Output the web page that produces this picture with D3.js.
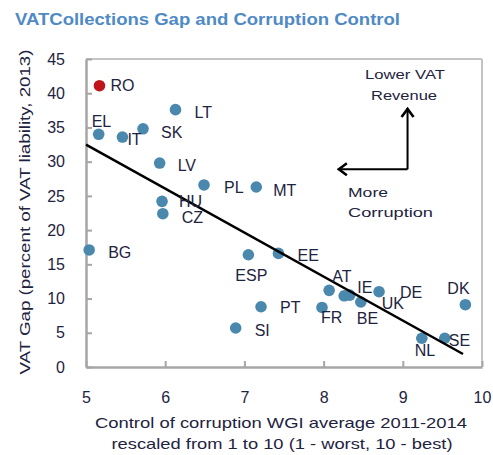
<!DOCTYPE html>
<html>
<head>
<meta charset="utf-8">
<script src="https://cdn.jsdelivr.net/npm/d3@7"></script>
<style>
  html, body { margin: 0; padding: 0; background: #fff; }
  svg { display: block; font-family: "Liberation Sans", Arial, sans-serif; }
</style>
</head>
<body>
<svg id="chart" width="493" height="455"></svg>
<script>
// ---- Data ----
const countries = ["RO","LT","EL","IT","SK","LV","PL","MT","HU","CZ","BG","ESP","PT","SI","EE","AT","FR","IE","BE","UK","DE","DK","SE","NL"];
const corruptionControl = [5.17,6.13,5.16,5.46,5.72,5.93,6.49,7.15,5.96,5.97,5.04,7.05,7.21,6.89,7.43,8.07,7.98,8.26,8.33,8.47,8.70,9.79,9.53,9.24];
const vatGap = [41.1,37.6,34.0,33.6,34.8,29.8,26.6,26.3,24.2,22.4,17.1,16.4,8.8,5.7,16.6,11.2,8.7,10.4,10.5,9.5,11.0,9.1,4.2,4.2];
const highlighted = ["RO"];
const xTicks = [5,6,7,8,9,10];
const yTicks = [0,5,10,15,20,25,30,35,40,45];
const trendX = [5.0, 9.76];
const trendY = [32.5, 1.9];
const arrowCorner = [9.06, 28.9];
const arrowUpTo = 37.85;
const arrowLeftTo = 8.18;

// ---- Layout / style (not data) ----
const labelOffsets = {
  RO:[11,5], LT:[19,8], EL:[-7,-7], IT:[5,8], SK:[18,9], LV:[18,8], PL:[20,8], MT:[17,9],
  HU:[17,6], CZ:[19,9], BG:[19,8], ESP:[-13,26], PT:[19,6], SI:[19,8], EE:[19,8],
  AT:[3,-8], FR:[-1,16], IE:[13,-3], BE:[7,29], UK:[21,7], DE:[21,6], DK:[-18,-11], SE:[4,8], NL:[-7,18]
};
const pointColor = "#4a88ad";
const redColor = "#c0141b";
const textColor = "#1e2340";
const axisColor = "#a6a6a6";

const svg = d3.select("#chart");
const x = d3.scaleLinear().domain([5, 10]).range([86, 482]);
const y = d3.scaleLinear().domain([0, 45]).range([367, 59]);

// Title
svg.append("text")
  .attr("x", 15).attr("y", 25)
  .attr("font-size", 16).attr("font-weight", "bold")
  .attr("fill", "#4f8ac5")
  .attr("textLength", 385).attr("lengthAdjust", "spacingAndGlyphs")
  .text("VATCollections Gap and Corruption Control");

// Plot frame (top & right)
svg.append("line").attr("x1", x(5)).attr("x2", x(10)).attr("y1", y(45)).attr("y2", y(45))
  .attr("stroke", "#c4c4c4").attr("stroke-width", 2);
svg.append("line").attr("x1", x(10)).attr("x2", x(10)).attr("y1", y(45)).attr("y2", y(0))
  .attr("stroke", "#c4c4c4").attr("stroke-width", 2);

// Axes
const xAxis = d3.axisBottom(x).tickValues(xTicks).tickSizeInner(-6).tickSizeOuter(0).tickPadding(25).tickFormat(d3.format("d"));
const yAxis = d3.axisLeft(y).tickValues(yTicks).tickSizeInner(-6).tickSizeOuter(0).tickPadding(21).tickFormat(d3.format("d"));

const gx = svg.append("g").attr("transform", `translate(0,${y(0)})`).call(xAxis);
const gy = svg.append("g").attr("transform", `translate(${x(5)},0)`).call(yAxis);
[gx, gy].forEach(g => {
  g.select(".domain").attr("stroke", axisColor).attr("stroke-width", 2.5);
  g.selectAll(".tick line").attr("stroke", axisColor).attr("stroke-width", 2);
  g.selectAll(".tick text").attr("fill", textColor).attr("font-size", 16)
    .attr("font-family", "'Liberation Sans', Arial, sans-serif");
});
gx.selectAll(".tick text").attr("dy", "0.71em");

// Axis titles
svg.append("text")
  .attr("x", 281).attr("y", 428).attr("text-anchor", "middle")
  .attr("font-size", 15).attr("fill", textColor)
  .attr("textLength", 372).attr("lengthAdjust", "spacingAndGlyphs")
  .text("Control of corruption WGI average 2011-2014");
svg.append("text")
  .attr("x", 282).attr("y", 449).attr("text-anchor", "middle")
  .attr("font-size", 15).attr("fill", textColor)
  .attr("textLength", 341).attr("lengthAdjust", "spacingAndGlyphs")
  .text("rescaled from 1 to 10  (1 - worst, 10 - best)");
svg.append("text")
  .attr("transform", "translate(30,212) rotate(-90)")
  .attr("text-anchor", "middle")
  .attr("font-size", 15).attr("fill", textColor)
  .attr("textLength", 325).attr("lengthAdjust", "spacingAndGlyphs")
  .text("VAT Gap (percent of VAT liability, 2013)");

// Data
const data = countries.map((c, i) => ({ c, x: corruptionControl[i], y: vatGap[i] }));

// Points
svg.append("g").selectAll("circle").data(data).join("circle")
  .attr("cx", d => x(d.x)).attr("cy", d => y(d.y)).attr("r", 5.8)
  .attr("fill", d => highlighted.includes(d.c) ? redColor : pointColor);

// Trend line
const line = d3.line().x(d => x(d[0])).y(d => y(d[1]));
svg.append("path")
  .attr("d", line(trendX.map((v, i) => [v, trendY[i]])))
  .attr("stroke", "#000").attr("stroke-width", 2.5).attr("fill", "none");

// Labels
svg.append("g").selectAll("text").data(data).join("text")
  .attr("x", d => x(d.x) + labelOffsets[d.c][0])
  .attr("y", d => y(d.y) + labelOffsets[d.c][1])
  .attr("font-size", 16).attr("fill", textColor)
  .text(d => d.c);

// Arrows
const cx = x(arrowCorner[0]), cy = y(arrowCorner[1]);
const topY = y(arrowUpTo), leftX = x(arrowLeftTo);
svg.append("path")
  .attr("d", `M${cx},${cy}V${topY} M${cx},${cy}H${leftX}`)
  .attr("stroke", "#000").attr("stroke-width", 2).attr("fill", "none");
svg.append("path")
  .attr("d", `M${cx-6},${topY+9}L${cx},${topY+1}L${cx+6},${topY+9} M${leftX+9},${cy-6}L${leftX+1},${cy}L${leftX+9},${cy+6}`)
  .attr("stroke", "#000").attr("stroke-width", 2.6).attr("fill", "none");

// Annotation text
const ann = [
  {t: "Lower VAT", x: 405, y: 79, w: 80},
  {t: "Revenue", x: 404, y: 100, w: 66},
];
ann.forEach(a => svg.append("text").attr("x", a.x).attr("y", a.y).attr("text-anchor", "middle")
  .attr("font-size", 13.5).attr("fill", textColor)
  .attr("textLength", a.w).attr("lengthAdjust", "spacingAndGlyphs").text(a.t));
const ann2 = [
  {t: "More", x: 348, y: 197, w: 40},
  {t: "Corruption", x: 348, y: 217, w: 85},
];
ann2.forEach(a => svg.append("text").attr("x", a.x).attr("y", a.y)
  .attr("font-size", 13.5).attr("fill", textColor)
  .attr("textLength", a.w).attr("lengthAdjust", "spacingAndGlyphs").text(a.t));
</script>
</body>
</html>
